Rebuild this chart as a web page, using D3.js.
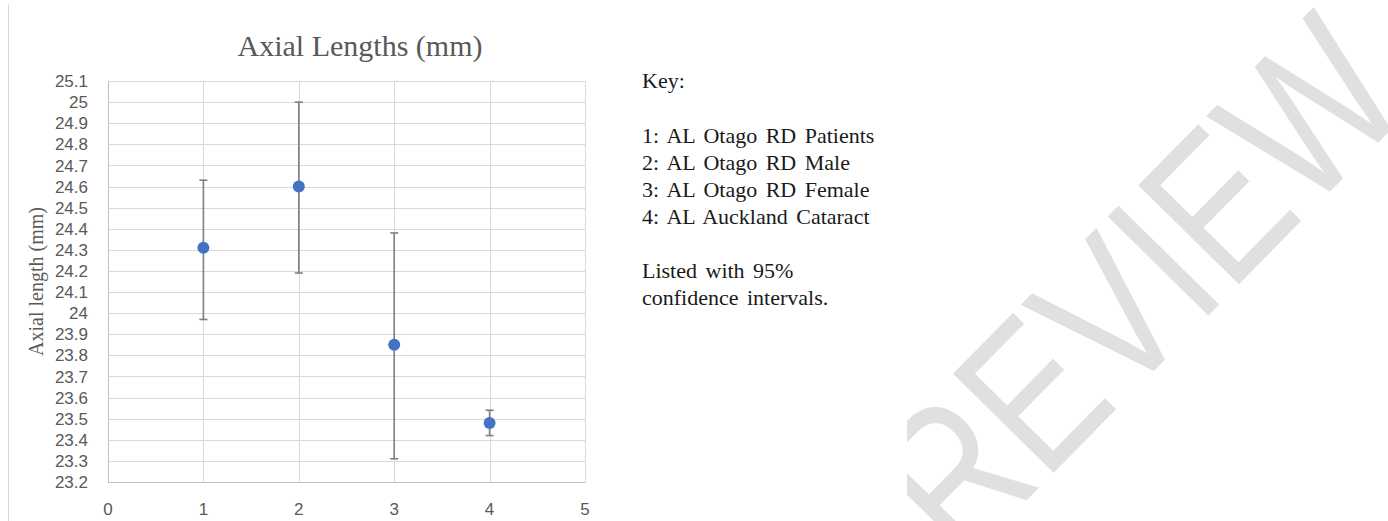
<!DOCTYPE html>
<html>
<head>
<meta charset="utf-8">
<script src="https://cdn.jsdelivr.net/npm/d3@7"></script>
<style>
  body { margin: 0; background: #fff; }
</style>
</head>
<body>
<div id="chart"></div>
<script>
// Data
const groups = [1, 2, 3, 4];
const means = [24.31, 24.60, 23.85, 23.48];
const lower = [23.97, 24.19, 23.31, 23.42];
const upper = [24.63, 25.00, 24.38, 23.54];

const xTicks = [0, 1, 2, 3, 4, 5];
const yTicks = [23.2, 23.3, 23.4, 23.5, 23.6, 23.7, 23.8, 23.9, 24, 24.1,
                24.2, 24.3, 24.4, 24.5, 24.6, 24.7, 24.8, 24.9, 25, 25.1];

const keyTitle = "Key:";
const keyLines = ["1: AL Otago RD Patients", "2: AL Otago RD Male",
                  "3: AL Otago RD Female", "4: AL Auckland Cataract"];
const noteLines = ["Listed with 95%", "confidence intervals."];

const W = 1388, H = 521;
const pl = 108, pr = 585, pt = 81, pb = 482;
const grey = "#595959";

const svg = d3.select("#chart").append("svg")
    .attr("width", W)
    .attr("height", H)
    .style("display", "block");

// watermark, clipped on its left like in the scan
svg.append("clipPath")
    .attr("id", "wmClip")
    .append("rect")
    .attr("x", 907).attr("y", 0)
    .attr("width", W - 907).attr("height", H);

svg.append("g")
    .attr("clip-path", "url(#wmClip)")
    .append("text")
    .attr("transform", "translate(1188,336) rotate(-45.5) scale(0.8,1)")
    .attr("text-anchor", "middle")
    .attr("font-family", "Liberation Sans, Arial, sans-serif")
    .attr("font-size", 205)
    .attr("fill", "#e0e0e0")
    .text("REVIEW");

// left border of the pasted chart
svg.append("line")
    .attr("x1", 8.5).attr("x2", 8.5)
    .attr("y1", 4).attr("y2", H)
    .attr("stroke", "#d9d9d9");

let x = d3.scaleLinear().domain([0, 5]).range([pl, pr]);
let y = d3.scaleLinear().domain([23.2, 25.1]).range([pb, pt]);

// gridlines
svg.append("g")
    .selectAll("line")
    .data(yTicks)
    .join("line")
    .attr("x1", pl).attr("x2", pr)
    .attr("y1", d => Math.round(y(d)) + 0.5)
    .attr("y2", d => Math.round(y(d)) + 0.5)
    .attr("stroke", "#d9d9d9")
    .attr("stroke-width", 1);

svg.append("g")
    .selectAll("line")
    .data(xTicks)
    .join("line")
    .attr("x1", d => Math.round(x(d)) + 0.5)
    .attr("x2", d => Math.round(x(d)) + 0.5)
    .attr("y1", pt).attr("y2", pb)
    .attr("stroke", "#d9d9d9")
    .attr("stroke-width", 1);

// axes lines (left and bottom a bit darker)
svg.append("line")
    .attr("x1", pl + 0.5).attr("x2", pl + 0.5)
    .attr("y1", pt).attr("y2", pb + 0.5)
    .attr("stroke", "#bfbfbf");
svg.append("line")
    .attr("x1", pl).attr("x2", pr + 0.5)
    .attr("y1", Math.round(y(23.2)) + 0.5).attr("y2", Math.round(y(23.2)) + 0.5)
    .attr("stroke", "#bfbfbf");

// Y tick labels
svg.append("g")
    .selectAll("text")
    .data(yTicks)
    .join("text")
    .attr("x", 88)
    .attr("y", d => y(d))
    .attr("dy", "0.36em")
    .attr("text-anchor", "end")
    .attr("font-family", "Liberation Sans, Arial, sans-serif")
    .attr("font-size", 17)
    .attr("fill", grey)
    .text(d => String(d));

// X tick labels
svg.append("g")
    .selectAll("text")
    .data(xTicks)
    .join("text")
    .attr("x", d => x(d))
    .attr("y", 515)
    .attr("text-anchor", "middle")
    .attr("font-family", "Liberation Sans, Arial, sans-serif")
    .attr("font-size", 17)
    .attr("fill", grey)
    .text(d => d);

// Title
svg.append("text")
    .attr("x", 360)
    .attr("y", 56)
    .attr("text-anchor", "middle")
    .attr("font-family", "Liberation Serif, Times New Roman, serif")
    .attr("font-size", 30)
    .attr("fill", grey)
    .text("Axial Lengths (mm)");

// Y axis title
svg.append("text")
    .attr("transform", `translate(43, ${(pt + pb) / 2}) rotate(-90)`)
    .attr("text-anchor", "middle")
    .attr("font-family", "Liberation Serif, Times New Roman, serif")
    .attr("font-size", 20)
    .attr("fill", grey)
    .text("Axial length (mm)");

// Error bars
const bars = svg.append("g")
    .attr("stroke", "#7f7f7f")
    .attr("stroke-width", 1.6);

bars.selectAll(".stem")
    .data(groups)
    .join("line")
    .attr("class", "stem")
    .attr("x1", d => x(d)).attr("x2", d => x(d))
    .attr("y1", (d, i) => y(upper[i]))
    .attr("y2", (d, i) => y(lower[i]));

bars.selectAll(".capTop")
    .data(groups)
    .join("line")
    .attr("class", "capTop")
    .attr("x1", d => x(d) - 4).attr("x2", d => x(d) + 4)
    .attr("y1", (d, i) => y(upper[i]))
    .attr("y2", (d, i) => y(upper[i]));

bars.selectAll(".capBot")
    .data(groups)
    .join("line")
    .attr("class", "capBot")
    .attr("x1", d => x(d) - 4).attr("x2", d => x(d) + 4)
    .attr("y1", (d, i) => y(lower[i]))
    .attr("y2", (d, i) => y(lower[i]));

// Points
svg.append("g")
    .selectAll("circle")
    .data(groups)
    .join("circle")
    .attr("cx", d => x(d))
    .attr("cy", (d, i) => y(means[i]))
    .attr("r", 6)
    .attr("fill", "#4472c4");

// Key text
const key = svg.append("g")
    .attr("font-family", "Liberation Serif, Times New Roman, serif")
    .attr("font-size", 22)
    .attr("fill", "#1a1a1a")
    .attr("word-spacing", 3);

key.append("text")
    .attr("x", 642).attr("y", 88)
    .text(keyTitle);

key.selectAll(".kl")
    .data(keyLines)
    .join("text")
    .attr("class", "kl")
    .attr("x", 642)
    .attr("y", (d, i) => 143 + i * 27)
    .text(d => d);

key.selectAll(".nl")
    .data(noteLines)
    .join("text")
    .attr("class", "nl")
    .attr("x", 642)
    .attr("y", (d, i) => 278 + i * 27)
    .text(d => d);
</script>
</body>
</html>
